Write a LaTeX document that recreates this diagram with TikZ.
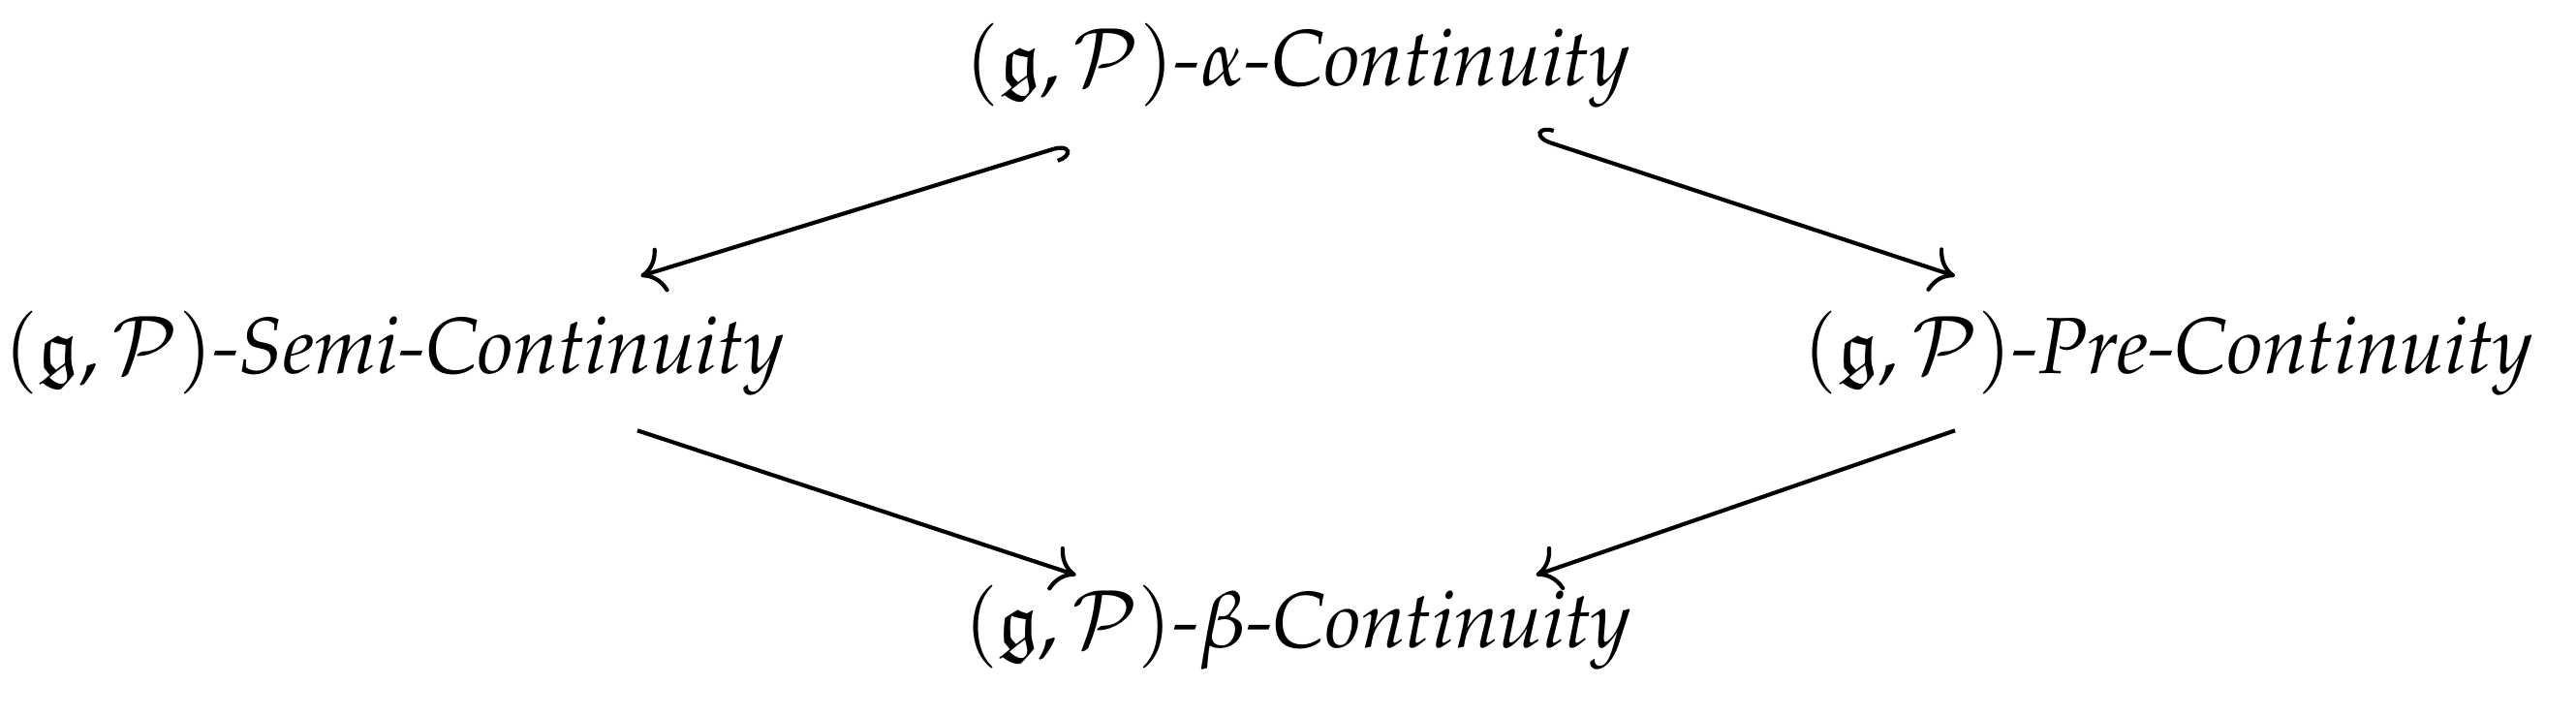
\documentclass[tikz,border=0pt]{standalone}
\usepackage[T1]{fontenc}
\usepackage{mathpazo}
\usepackage{amssymb}
\usetikzlibrary{arrows.meta,calc}
\begin{document}
\begin{tikzpicture}[x=0.01cm,y=-0.01cm,
  lbl/.style={inner sep=0pt,font=\fontsize{13.8}{16}\selectfont\itshape},
  imp/.style={-{To[length=4pt,width=8pt]},line width=0.7pt},
  himp/.style={{Hooks[right,length=2.5pt,width=5pt]}-{To[length=4pt,width=8pt]},line width=0.7pt}]
\useasboundingbox (0,0) rectangle (1568,436);
\node[lbl] (top) at (790,40) {$(\mathfrak{g},\mathcal{P})$-$\alpha$-Continuity};
\node[lbl] (left) at (240,215) {$(\mathfrak{g},\mathcal{P})$-Semi-Continuity};
\node[lbl] (right) at (1320,215) {$(\mathfrak{g},\mathcal{P})$-Pre-Continuity};
\node[lbl] (bot) at (790,382) {$(\mathfrak{g},\mathcal{P})$-$\beta$-Continuity};
\coordinate (a1) at (650,88); \coordinate (a2) at (390,168);
\coordinate (b1) at (935,84); \coordinate (b2) at (1190,168);
\coordinate (c1) at (388,262); \coordinate (c2) at (655,350);
\coordinate (d1) at (1190,262); \coordinate (d2) at (935,350);
\draw[himp] (a1) -- (a2);
\draw[himp] (b1) -- (b2);
\draw[imp] (c1) -- (c2);
\draw[imp] (d1) -- (d2);
\end{tikzpicture}
\end{document}
